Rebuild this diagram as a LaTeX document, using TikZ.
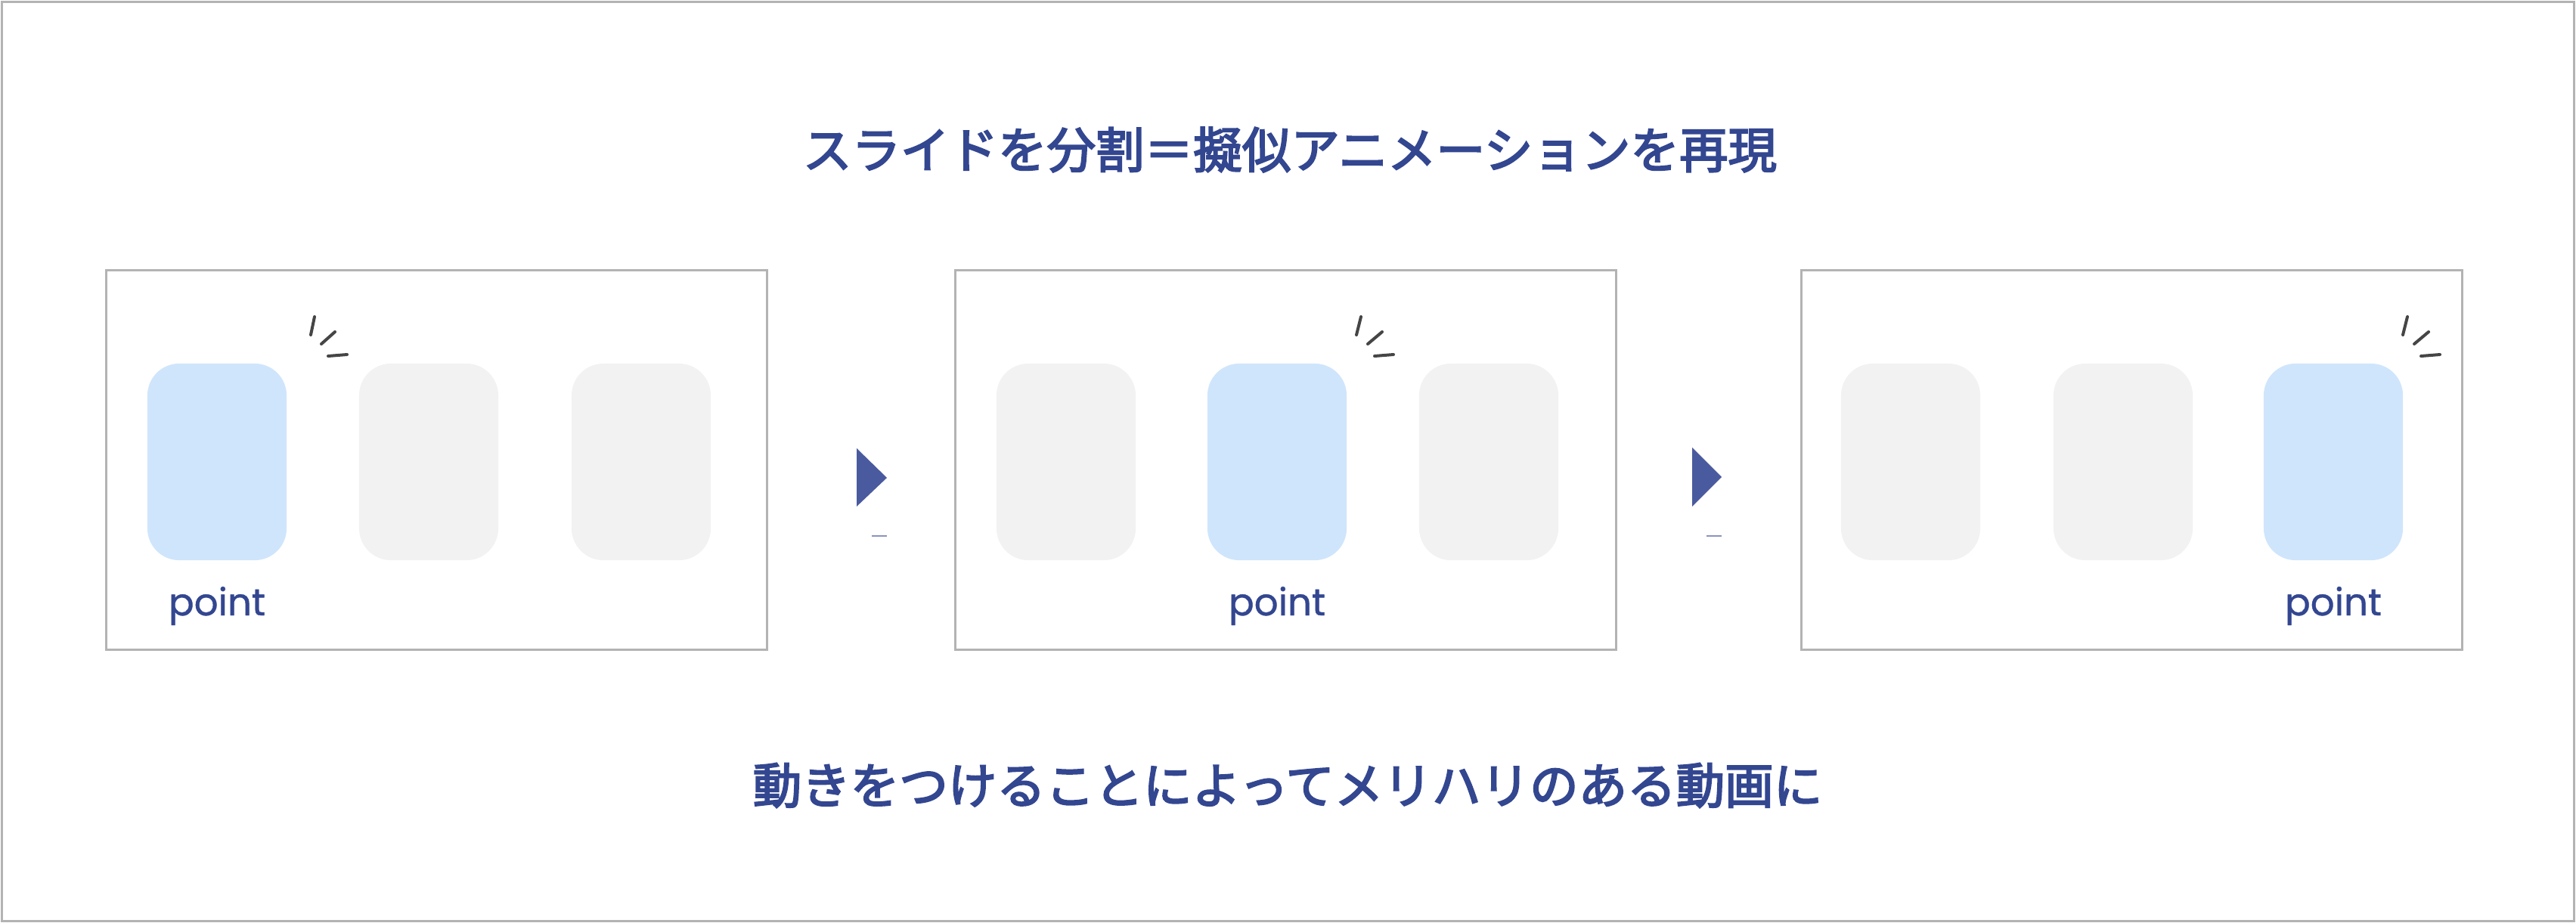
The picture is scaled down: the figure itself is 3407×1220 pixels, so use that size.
\documentclass[tikz,border=0pt]{standalone}
\usepackage{fontspec}
\newfontfamily\cjk[FakeBold=3.2]{Noto Sans CJK JP}
\newfontfamily\pop[FakeBold=0.8]{Poppins}
\definecolor{txtblue}{HTML}{334690}
\definecolor{triblue}{HTML}{4A5A9E}
\definecolor{lineblue}{HTML}{8A93C0}
\definecolor{cardblue}{HTML}{CFE5FC}
\definecolor{cardgray}{HTML}{F2F2F2}
\definecolor{framegray}{HTML}{B3B3B3}
\definecolor{sparkgray}{HTML}{454545}
\tikzset{
  panelbox/.style={draw=framegray, line width=0.03cm, minimum width=8.73cm, minimum height=5.01cm, inner sep=0pt},
  cardbase/.style={draw=none, minimum width=1.84cm, minimum height=2.60cm, rounded corners=0.42cm, inner sep=0pt},
  cardon/.style={cardbase, fill=cardblue},
  cardoff/.style={cardbase, fill=cardgray},
  pointlbl/.style={anchor=base, inner sep=0pt, text=txtblue, font=\pop\fontsize{14.2pt}{16pt}\selectfont},
  headline/.style={inner sep=0pt, text=txtblue, font=\cjk\fontsize{18.35pt}{22pt}\selectfont},
  spark/.style={draw=sparkgray, line width=0.04cm, line cap=round},
  tri/.style={fill=triblue, draw=none},
  tick/.style={draw=lineblue, line width=0.012cm}
}
\begin{document}
\begin{tikzpicture}[x=0.01cm, y=-0.01cm]
\useasboundingbox (0,0) rectangle (3407,1220);
\draw[draw=framegray, line width=0.03cm] (2.5,2.5) rectangle (3404,1218);

\node[headline] (title) at (1706,198) {スライドを分割＝擬似アニメーションを再現};
\node[headline] (bottom) at (1703,1039) {動きをつけることによってメリハリのある動画に};

% panels
\node[panelbox] (p1) at (577.5,608.5) {};
\node[panelbox] (p2) at (1700.5,608.5) {};
\node[panelbox] (p3) at (2819.5,608.5) {};

% panel 1 cards
\node[cardon]  (c11) at (287,611) {};
\node[cardoff] (c12) at (567,611) {};
\node[cardoff] (c13) at (848,611) {};
\node[pointlbl] (l1) at (287,814) {point};

% panel 2 cards
\node[cardoff] (c21) at (1410,611) {};
\node[cardon]  (c22) at (1689,611) {};
\node[cardoff] (c23) at (1969,611) {};
\node[pointlbl] (l2) at (1689,814) {point};

% panel 3 cards
\node[cardoff] (c31) at (2527,611) {};
\node[cardoff] (c32) at (2808,611) {};
\node[cardon]  (c33) at (3086,611) {};
\node[pointlbl] (l3) at (3086,814) {point};

% sparkles
\draw[spark] (416,419) -- (411,443);
\draw[spark] (443,439) -- (425,455);
\draw[spark] (434,471) -- (459,469);
\draw[spark] (1800,419) -- (1794,443);
\draw[spark] (1828,439) -- (1809,455);
\draw[spark] (1818,471) -- (1843,469);
\draw[spark] (3184,419) -- (3178,443);
\draw[spark] (3212,439) -- (3193,455);
\draw[spark] (3202,471) -- (3227,469);

% arrows
\fill[tri] (1133,593) -- (1173,632) -- (1133,670) -- cycle;
\draw[tick] (1153,709) -- (1173,709);
\fill[tri] (2238,592) -- (2277,631) -- (2238,670) -- cycle;
\draw[tick] (2257,709) -- (2277,709);
\end{tikzpicture}
\end{document}
